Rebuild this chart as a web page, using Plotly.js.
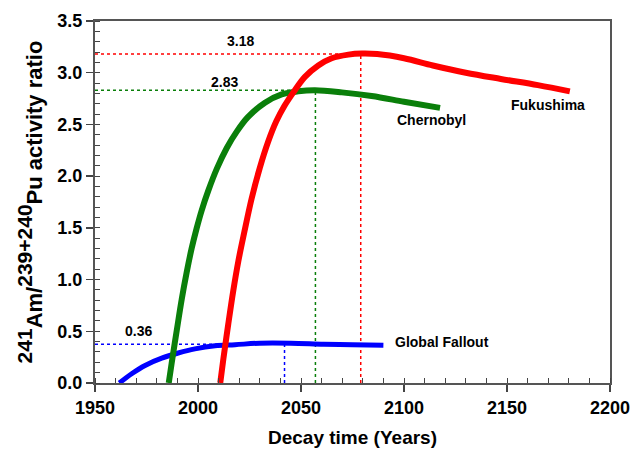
<!DOCTYPE html>
<html>
<head>
<meta charset="utf-8">
<script src="https://cdn.plot.ly/plotly-3.0.1.min.js"></script>
<style>html,body{margin:0;padding:0;background:#fff;}#chart{width:632px;height:455px;}</style>
</head>
<body>
<div id="chart"></div>
<script>
// Global fallout
const globalYears = [1961.8, 1967.8, 1974.3, 1982.4, 1990.4, 1998.5, 2008.3, 2018, 2030, 2045, 2061, 2075, 2090];
const globalRatio = [0.0, 0.09, 0.17, 0.24, 0.29, 0.33, 0.36, 0.37, 0.385, 0.385, 0.375, 0.37, 0.365];
// Chernobyl
const chernYears = [1985.8, 1987.2, 1989.7, 1992.1, 1994.5, 1996.9, 1999.4, 2001.8, 2005, 2009.1, 2013.9, 2018.8, 2024.2, 2032.5, 2040.6, 2048.7, 2056.8, 2069.8, 2084.3, 2100, 2117.5];
const chernRatio = [0.0, 0.19, 0.51, 0.81, 1.07, 1.30, 1.50, 1.67, 1.86, 2.07, 2.27, 2.43, 2.57, 2.71, 2.79, 2.82, 2.83, 2.81, 2.775, 2.72, 2.66];
// Fukushima
const fukuYears = [2010.8, 2012.3, 2014.7, 2017.1, 2019.6, 2022.5, 2026, 2030, 2034, 2038, 2042, 2046.3, 2051.9, 2058.4, 2064.9, 2073, 2079.5, 2087, 2100, 2114, 2130, 2147, 2165, 2180.5];
const fukuRatio = [0.0, 0.23, 0.57, 0.89, 1.18, 1.46, 1.78, 2.08, 2.33, 2.53, 2.68, 2.81, 2.96, 3.07, 3.14, 3.175, 3.185, 3.18, 3.14, 3.07, 3.0, 2.94, 2.88, 2.82];
// Peak reference values
const peakLabels = ["0.36", "2.83", "3.18"];
const peakYears = [2042, 2057, 2079];
const peakLevels = [0.375, 2.83, 3.18];
const seriesNames = ["Global Fallout", "Chernobyl", "Fukushima"];
const colors = ["#0000ff", "#0a7f0a", "#ff0000"];

const xStart = 1950;
const traces = [];
for (let i = 0; i < 3; i++) {
  traces.push({x: [xStart, peakYears[i]], y: [peakLevels[i], peakLevels[i]], mode: 'lines',
    line: {color: colors[i], width: 1.5, dash: 'dot'}, hoverinfo: 'skip', showlegend: false});
  traces.push({x: [peakYears[i], peakYears[i]], y: [0, peakLevels[i]], mode: 'lines',
    line: {color: colors[i], width: 1.5, dash: 'dot'}, hoverinfo: 'skip', showlegend: false});
}
const curveX = [globalYears, chernYears, fukuYears];
const curveY = [globalRatio, chernRatio, fukuRatio];
const widths = [5, 6, 6];
for (let i = 0; i < 3; i++) {
  traces.push({x: curveX[i], y: curveY[i], mode: 'lines', name: seriesNames[i],
    line: {color: colors[i], width: widths[i], shape: 'spline', smoothing: 1}, showlegend: false});
}

const font = {family: 'Liberation Sans, Arial, sans-serif', color: '#000', weight: 'bold'};
const annFont = Object.assign({}, font, {size: 14});
const annotations = [
  {x: 1971, y: 0.50, text: peakLabels[0]},
  {x: 2013, y: 2.91, text: peakLabels[1]},
  {x: 2020.7, y: 3.31, text: peakLabels[2]},
  {x: 2094.5, y: 0.40, text: seriesNames[0], xanchor: 'left'},
  {x: 2113.4, y: 2.54, text: seriesNames[1]},
  {x: 2170, y: 2.69, text: seriesNames[2]}
].map(a => Object.assign({xref: 'x', yref: 'y', showarrow: false, font: annFont}, a));

const layout = {
  width: 632, height: 455,
  margin: {l: 95, r: 22, t: 21, b: 72},
  paper_bgcolor: '#fff', plot_bgcolor: '#fff',
  annotations: annotations,
  xaxis: {
    range: [1950, 2200], dtick: 50, tick0: 1950,
    ticks: 'outside', ticklen: 7, tickwidth: 1.5, tickcolor: '#444',
    minor: {dtick: 10, ticks: 'inside', ticklen: 5, tickwidth: 1, tickcolor: '#444'},
    showgrid: false, zeroline: false,
    showline: true, linecolor: '#555', linewidth: 2, mirror: true,
    tickfont: Object.assign({}, font, {size: 18}),
    title: {text: 'Decay time (Years)', font: Object.assign({}, font, {size: 19}), standoff: 14}
  },
  yaxis: {
    range: [0, 3.5], dtick: 0.5, tick0: 0, tickformat: '.1f',
    ticks: 'outside', ticklen: 7, tickwidth: 1.5, tickcolor: '#444',
    minor: {dtick: 0.1, ticks: 'inside', ticklen: 5, tickwidth: 1, tickcolor: '#444'},
    showgrid: false, zeroline: false,
    showline: true, linecolor: '#555', linewidth: 2, mirror: true,
    tickfont: Object.assign({}, font, {size: 18}),
    title: {text: '<sup><span style="font-size:21px">241</span></sup>Am/<sup><span style="font-size:21px">239+240</span></sup>Pu activity ratio',
      font: Object.assign({}, font, {size: 22}), standoff: 9}
  }
};
Plotly.newPlot('chart', traces, layout, {displayModeBar: false, staticPlot: true});
</script>
</body>
</html>
